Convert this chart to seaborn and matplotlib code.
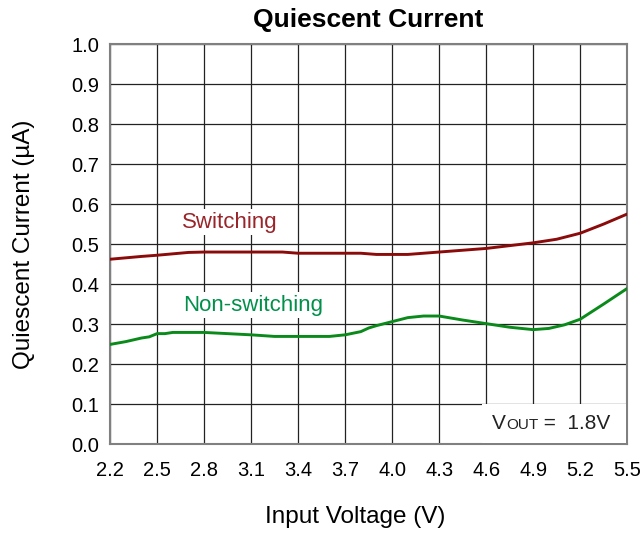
import pandas as pd
import matplotlib.pyplot as plt
import seaborn as sns
from matplotlib.offsetbox import TextArea, HPacker, AnchoredOffsetbox

# Values
switch_v = [2.2, 2.4, 2.5, 2.7, 2.8, 3.3, 3.4, 3.8, 3.9, 4.1, 4.3, 4.6, 4.9, 5.05, 5.2, 5.35, 5.5]
switch_i = [0.462, 0.469, 0.472, 0.479, 0.480, 0.480, 0.477, 0.477, 0.474, 0.474, 0.480,
            0.489, 0.503, 0.512, 0.527, 0.550, 0.575]

nonswitch_v = [2.2, 2.3, 2.4, 2.45, 2.5, 2.55, 2.6, 2.8, 3.1, 3.25, 3.6, 3.7, 3.8, 3.85, 3.9,
               4.0, 4.1, 4.2, 4.3, 4.45, 4.6, 4.75, 4.9, 5.0, 5.1, 5.2, 5.35, 5.5]
nonswitch_i = [0.249, 0.256, 0.265, 0.268, 0.276, 0.276, 0.279, 0.279, 0.273, 0.269, 0.269,
               0.273, 0.281, 0.290, 0.296, 0.306, 0.316, 0.320, 0.320, 0.310, 0.301, 0.292,
               0.286, 0.289, 0.298, 0.312, 0.350, 0.389]

x_ticks = [2.2, 2.5, 2.8, 3.1, 3.4, 3.7, 4.0, 4.3, 4.6, 4.9, 5.2, 5.5]
y_ticks = [0.0, 0.1, 0.2, 0.3, 0.4, 0.5, 0.6, 0.7, 0.8, 0.9, 1.0]

df = pd.concat([
    pd.DataFrame({"voltage": switch_v, "current": switch_i, "mode": "Switching"}),
    pd.DataFrame({"voltage": nonswitch_v, "current": nonswitch_i, "mode": "Non-switching"}),
])

sns.set_style("white")
plt.rcParams["font.family"] = ["Liberation Sans", "DejaVu Sans"]
plt.rcParams["text.color"] = "black"
plt.rcParams["axes.labelcolor"] = "black"
plt.rcParams["xtick.color"] = "black"
plt.rcParams["ytick.color"] = "black"

fig = plt.figure(figsize=(6.4, 5.34), dpi=100)
ax = fig.add_axes([0.172, 0.1685, 0.808, 0.749])

sns.lineplot(
    data=df, x="voltage", y="current", hue="mode",
    palette={"Switching": "#8b0a0a", "Non-switching": "#0a8a1a"},
    linewidth=2.1, legend=False, ax=ax, zorder=3
)

ax.set_xlim(2.2, 5.5)
ax.set_ylim(0.0, 1.0)
ax.set_xticks(x_ticks)
ax.set_xticklabels([f"{t:.1f}" for t in x_ticks], fontsize=14.5)
ax.set_yticks(y_ticks)
ax.set_yticklabels([f"{t:.1f}" for t in y_ticks], fontsize=14.5)
ax.tick_params(direction="in", length=4, color="#777777")
ax.tick_params(axis="x", pad=12)
ax.tick_params(axis="y", pad=8)
ax.grid(True, color="#222222", linewidth=0.9)
ax.set_axisbelow(True)
for s in ax.spines.values():
    s.set_color("#808080")
    s.set_linewidth(1.5)

ax.set_title("Quiescent Current", fontsize=19, weight="bold", pad=12)
ax.set_xlabel("Input Voltage (V)", fontsize=17.5, labelpad=19)
ax.xaxis.label.set_x(0.474)
ax.set_ylabel("Quiescent Current (µA)", fontsize=17.5, labelpad=26)

# Curve labels with white backgrounds
ax.text(2.966, 0.555, "Switching", color="#99252a", fontsize=16, ha="center", va="center",
        bbox=dict(facecolor="white", edgecolor="none", pad=2), zorder=4)
ax.text(3.113, 0.3475, "Non-switching", color="#00904a", fontsize=16, ha="center", va="center",
        bbox=dict(facecolor="white", edgecolor="none", pad=2), zorder=4)

# VOUT annotation box
parts = HPacker(children=[
    TextArea("V", textprops=dict(fontsize=15, color="#222222")),
    TextArea("OUT", textprops=dict(fontsize=11, color="#222222")),
    TextArea(" =  1.8V ", textprops=dict(fontsize=15, color="#222222")),
], align="baseline", pad=0, sep=0)
box = AnchoredOffsetbox(loc="lower right", child=parts, pad=0.7, borderpad=0.1, frameon=True)
box.patch.set_facecolor("white")
box.patch.set_edgecolor("none")
box.zorder = 5
ax.add_artist(box)

plt.savefig("out.png", dpi=100)
